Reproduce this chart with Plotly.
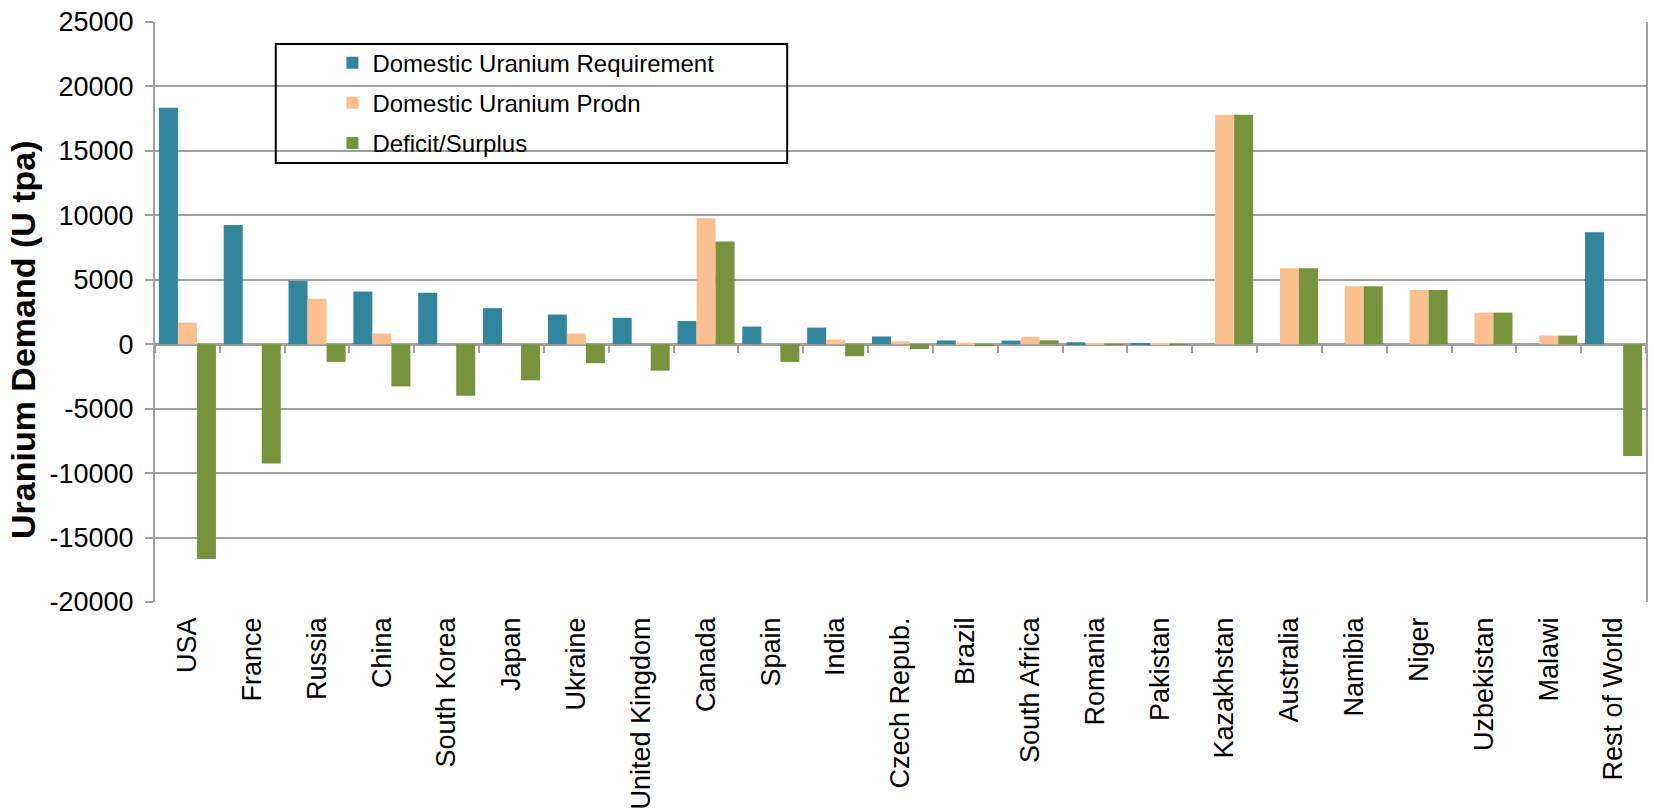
import plotly.graph_objects as go

countries = ["USA", "France", "Russia", "China", "South Korea", "Japan", "Ukraine",
             "United Kingdom", "Canada", "Spain", "India", "Czech Repub.", "Brazil",
             "South Africa", "Romania", "Pakistan", "Kazakhstan", "Australia", "Namibia",
             "Niger", "Uzbekistan", "Malawi", "Rest of World"]
requirement = [18350, 9250, 4900, 4100, 4000, 2800, 2300, 2050, 1800, 1370, 1290, 600, 290,
               280, 150, 70, 0, 0, 0, 0, 0, 0, 8680]
production = [1680, 0, 3530, 830, 0, 0, 830, 0, 9770, 0, 360, 230, 130,
              580, 90, 45, 17800, 5890, 4500, 4200, 2450, 670, 0]
balance = [-16670, -9250, -1370, -3270, -4000, -2800, -1470, -2050, 7970, -1370, -930, -370, -160,
           300, -60, -25, 17800, 5890, 4500, 4200, 2450, 670, -8680]

series_names = ["Domestic Uranium Requirement", "Domestic Uranium Prodn", "Deficit/Surplus"]
series_colors = ["#31859C", "#FAC090", "#77933C"]
y_ticks = [-20000, -15000, -10000, -5000, 0, 5000, 10000, 15000, 20000, 25000]
y_tick_labels = ["-20000", "-15000", "-10000", "-5000", "0", "5000", "10000", "15000", "20000", "25000"]
y_min, y_max = -20000, 25000

FONT = "Liberation Sans, Arial, sans-serif"
GRID = "#A0A0A0"

fig = go.Figure()
for name, vals, col in zip(series_names, [requirement, production, balance], series_colors):
    fig.add_trace(go.Bar(x=countries, y=vals, name=name, marker=dict(color=col, line=dict(width=0)),
                         legendgroup=name))

# helper trace for tick marks on the zero-crossing category axis
fig.add_trace(go.Scatter(x=countries, y=[None] * len(countries), xaxis="x2", showlegend=False,
                         hoverinfo="skip", mode="markers"))

fig.update_layout(
    width=1654, height=811,
    margin=dict(l=155, r=8, t=22, b=209),
    paper_bgcolor="white", plot_bgcolor="white",
    font=dict(family=FONT, size=24, color="black"),
    barmode="group", bargap=0.12, bargroupgap=0,
    showlegend=True,
    legend=dict(x=0.119, y=0.968, xanchor="left", yanchor="top", bgcolor="rgba(0,0,0,0)",
                borderwidth=0, font=dict(size=24, family=FONT), traceorder="grouped",
                tracegroupgap=6),
    xaxis=dict(type="category", categoryorder="array", categoryarray=countries,
               range=[-0.5, len(countries) - 0.5], automargin=False,
               tickangle=-90, ticks="", showgrid=False, showline=False,
               tickfont=dict(size=27, family=FONT), ticklabelstandoff=9),
    xaxis2=dict(type="category", categoryorder="array", categoryarray=countries,
                range=[-0.5, len(countries) - 0.5], overlaying="x", anchor="free",
                position=(0 - y_min) / (y_max - y_min), side="bottom",
                showticklabels=False, ticks="outside", tickson="boundaries", ticklen=8,
                tickwidth=2, tickcolor=GRID, showgrid=False, showline=False),
    yaxis=dict(range=[y_min, y_max], tickvals=y_ticks, ticktext=y_tick_labels, automargin=False,
               showgrid=True, gridcolor=GRID, gridwidth=2,
               zeroline=True, zerolinecolor=GRID, zerolinewidth=2.5,
               showline=True, linecolor=GRID, linewidth=2, mirror=True,
               ticks="outside", ticklen=8, tickwidth=2, tickcolor=GRID,
               tickfont=dict(size=27, family=FONT), ticklabelstandoff=6),
    annotations=[dict(text="<b>Uranium Demand (U tpa)</b>", textangle=-90,
                      xref="paper", yref="paper", x=(23 - 155) / 1491, y=(602 - 340) / 580,
                      xanchor="center", yanchor="middle", showarrow=False,
                      font=dict(size=34, family=FONT, color="black"))],
    shapes=[dict(type="rect", xref="paper", yref="paper", x0=0.081, x1=0.424,
                 y0=(602 - 163) / 580, y1=(602 - 44) / 580,
                 line=dict(color="black", width=2), fillcolor="rgba(0,0,0,0)", layer="above")],
)

fig.write_html("out.html")
